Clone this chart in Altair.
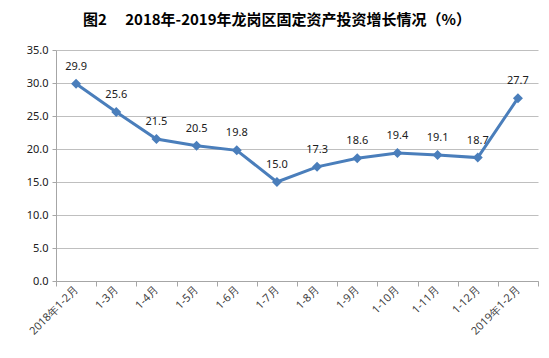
import altair as alt
import pandas as pd

categories = ["2018年1-2月", "1-3月", "1-4月", "1-5月", "1-6月", "1-7月", "1-8月",
              "1-9月", "1-10月", "1-11月", "1-12月", "2019年1-2月"]
values = [29.9, 25.6, 21.5, 20.5, 19.8, 15.0, 17.3, 18.6, 19.4, 19.1, 18.7, 27.7]

df = pd.DataFrame({"cat": categories, "val": values,
                   "lbl": [f"{v:.1f}" for v in values]})

FONT = "Noto Sans"
x = alt.X("cat:N", sort=categories, title=None,
          scale=alt.Scale(paddingInner=0, paddingOuter=0),
          axis=alt.Axis(labelAngle=-45, labelAlign="right", labelBaseline="middle",
                        tickBand="extent", domainColor="#a6a6a6", tickColor="#a6a6a6",
                        tickSize=5, labelFontSize=11, labelColor="#404040",
                        labelFont=FONT, labelPadding=2, grid=False))
y = alt.Y("val:Q", title=None,
          scale=alt.Scale(domain=[0, 35]),
          axis=alt.Axis(values=[0, 5, 10, 15, 20, 25, 30, 35], format=".1f",
                        labelOverlap=False,
                        gridColor="#bfbfbf", domainColor="#a6a6a6", tickColor="#a6a6a6",
                        tickSize=4, labelFontSize=11, labelColor="#202020",
                        labelFont=FONT, labelPadding=4))

base = alt.Chart(df)
line = base.mark_line(color="#4A7EBB", strokeWidth=3).encode(x=x, y=y)
pts = base.mark_point(shape="diamond", filled=True, color="#4A7EBB", size=100,
                      opacity=1).encode(x=x, y=y)
txt = base.mark_text(fontSize=11, font=FONT, color="#202020", dy=-17).encode(
    x=x, y=y, text="lbl:N")

chart = alt.layer(line, pts, txt).properties(
    width=482, height=231,
    title=alt.TitleParams("图2\u3000 2018年-2019年龙岗区固定资产投资增长情况（%）",
                          font="Noto Sans CJK SC", fontSize=15, fontWeight="bold",
                          color="#000000", offset=16, dx=-20),
    autosize=alt.AutoSizeParams(type="none"),
    padding={"left": 48, "top": 42, "right": 3, "bottom": 69},
).configure_view(stroke=None)

chart.save("out.html", embed_options={"renderer": "svg", "actions": False})
